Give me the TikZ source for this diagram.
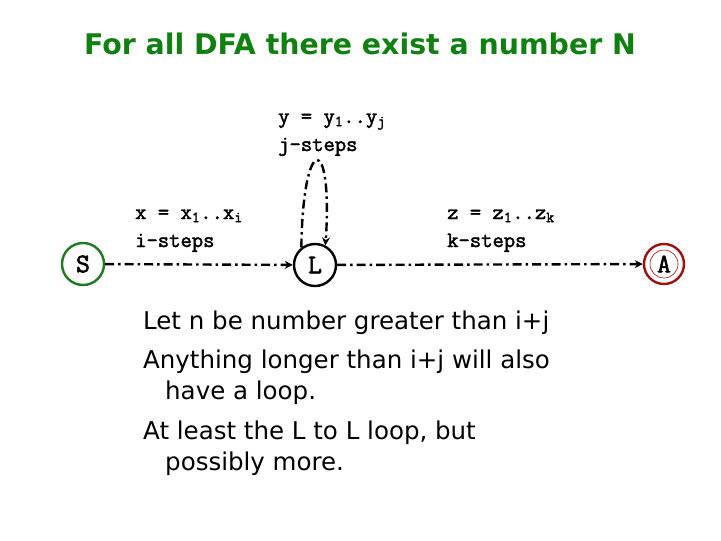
\documentclass[tikz,border=0pt]{standalone}
\usepackage{fontspec}
\setmainfont{DejaVu Sans}
\newfontfamily\monof[FakeBold=2]{Latin Modern Mono}
\usetikzlibrary{arrows.meta}
\definecolor{titlegreen}{RGB}{16,128,16}
\definecolor{stategreen}{RGB}{30,122,30}
\definecolor{accred}{RGB}{160,16,16}
\tikzset{
  state/.style={circle,draw,line width=2.4pt,minimum size=42pt,inner sep=0pt,font=\monof\fontsize{27}{27}\selectfont},
  mono/.style={anchor=base west,inner sep=0pt,font=\monof\fontsize{22}{22}\selectfont},
  body/.style={anchor=base west,inner sep=0pt,font=\fontsize{24.5}{24.5}\selectfont},
  trans/.style={line width=2.4pt,dash pattern=on 9pt off 4pt on 2.5pt off 4pt,-{Stealth[length=8pt,width=8pt]}},
}
\begin{document}
\begin{tikzpicture}[x=1pt,y=-1pt]
\useasboundingbox (0,0) rectangle (721,541);
\node[font=\bfseries\fontsize{28.4}{28.4}\selectfont,text=titlegreen,anchor=base,inner sep=0pt] (title) at (360,54) {For all DFA there exist a number N};
\node[state,draw=stategreen] (S) at (83,264) {S};
\node[state,draw=black] (L) at (315,265) {L};
\node[state,draw=accred,minimum size=40pt] (A) at (664,264) {A};
\draw[accred,line width=0.6pt] (A) circle (14pt);
\node[mono] (y1) at (278,123) {y = y\textsubscript{1}..y\textsubscript{j}};
\node[mono] (y2) at (278,151) {j-steps};
\node[mono] (x1) at (135,219) {x = x\textsubscript{1}..x\textsubscript{i}};
\node[mono] (x2) at (135,247) {i-steps};
\node[mono] (z1) at (447,219) {z = z\textsubscript{1}..z\textsubscript{k}};
\node[mono] (z2) at (447,247) {k-steps};
\draw[trans] (S) -- (L);
\draw[trans] (L) -- (A);
\draw[trans] (L.128) .. controls (303,132) and (333,132) .. (L.62);
\node[body] (t1) at (143,329) {Let n be number greater than i+j};
\node[body] (t2) at (143,368) {Anything longer than i+j will also};
\node[body] (t3) at (165,399) {have a loop.};
\node[body] (t4) at (143,439) {At least the L to L loop, but};
\node[body] (t5) at (165,470) {possibly more.};
\end{tikzpicture}
\end{document}
